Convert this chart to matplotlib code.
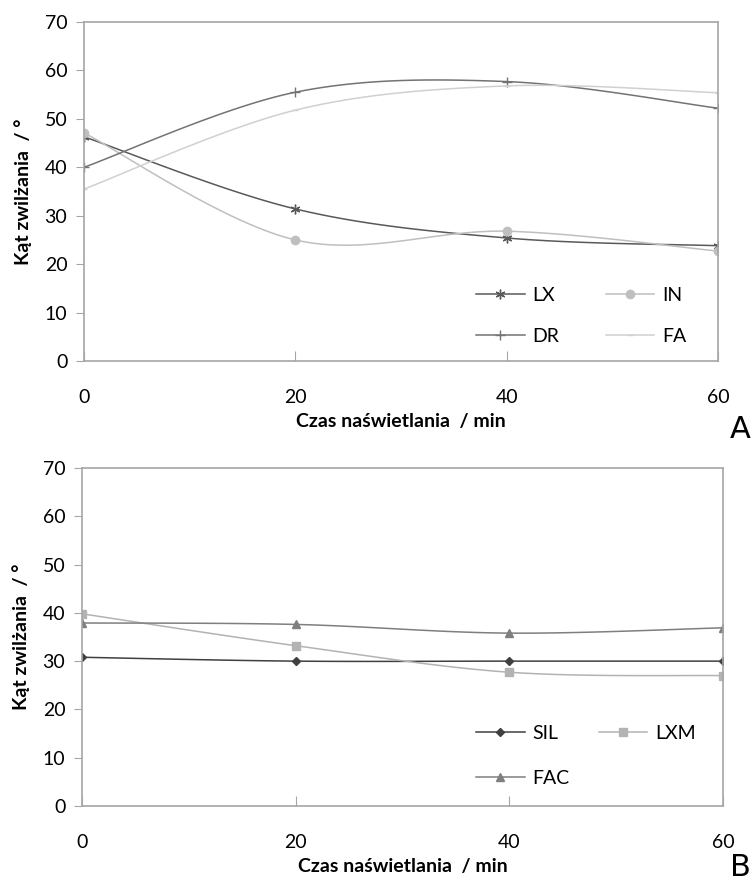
import numpy as np
import matplotlib
matplotlib.use('Agg')
import matplotlib.pyplot as plt

# dane
czas = [0, 20, 40, 60]

lx = [46.3, 31.4, 25.4, 23.8]
in_ = [47.1, 25.0, 26.8, 22.7]
dr = [40.0, 55.5, 57.7, 52.2]
fa = [35.5, 51.8, 56.8, 55.4]

sil = [30.8, 30.0, 30.0, 30.0]
lxm = [39.8, 33.2, 27.7, 27.0]
fac = [37.9, 37.6, 35.8, 36.9]

plt.rcParams['font.family'] = ['Lato', 'DejaVu Sans']


def wygladz(x, y, n=30):
    # krzywa jak w Excelu (Catmull-Rom)
    x = np.asarray(x, float)
    y = np.asarray(y, float)
    px = np.concatenate([[x[0]], x, [x[-1]]])
    py = np.concatenate([[y[0]], y, [y[-1]]])
    xs, ys = [], []
    for i in range(1, len(px) - 2):
        t = np.linspace(0, 1, n)
        for p, out in ((px, xs), (py, ys)):
            p0, p1, p2, p3 = p[i - 1], p[i], p[i + 1], p[i + 2]
            out.extend(0.5 * ((2 * p1) + (-p0 + p2) * t
                              + (2 * p0 - 5 * p1 + 4 * p2 - p3) * t ** 2
                              + (-p0 + 3 * p1 - 3 * p2 + p3) * t ** 3))
    return xs, ys


def seria(ax, y, kolor, marker, ms, label, mew=1.0):
    xs, ys = wygladz(czas, y)
    ax.plot(xs, ys, color=kolor, lw=1.1)
    ax.plot(czas, y, linestyle='none', marker=marker, color=kolor, ms=ms, mew=mew)
    return ax.plot([], [], color=kolor, lw=1.1, marker=marker, ms=ms, mew=mew, label=label)[0]


def osie(ax):
    ax.set_xlim(0, 60)
    ax.set_ylim(0, 70)
    ax.set_xticks([0, 20, 40, 60])
    ax.set_yticks(range(0, 71, 10))
    for s in ax.spines.values():
        s.set_color('#a6a6a6')
        s.set_linewidth(1.2)
    ax.tick_params(axis='y', direction='out', length=6, color='#a6a6a6', labelsize=14, pad=6)
    ax.tick_params(axis='x', direction='in', length=7, color='#a6a6a6', labelsize=14, pad=20)
    ax.set_ylabel('Kąt zwilżania  / °', fontsize=14, fontweight='bold', labelpad=9)
    ax.set_xlabel('Czas naświetlania  / min', fontsize=14, fontweight='bold', labelpad=5)


fig = plt.figure(figsize=(7.52, 8.8), dpi=100)
ax1 = fig.add_axes([0.1117, 0.5898, 0.843, 0.3852])
ax2 = fig.add_axes([0.109, 0.0841, 0.8524, 0.3841])

h_lx = seria(ax1, lx, '#595959', (6, 2, 0), 7, 'LX')
h_in = seria(ax1, in_, '#bfbfbf', 'o', 6, 'IN')
h_dr = seria(ax1, dr, '#737373', '+', 7, 'DR')
h_fa = seria(ax1, fa, '#d0d0d0', '_', 4, 'FA')
osie(ax1)
ax1.legend(handles=[h_lx, h_dr, h_in, h_fa], ncol=2, loc='lower right',
           bbox_to_anchor=(0.978, -0.005), frameon=False,
           fontsize=14, handlelength=2.5, columnspacing=2.4, labelspacing=1.25,
           handletextpad=0.4)

h_sil = seria(ax2, sil, '#404040', 'D', 4, 'SIL')
h_lxm = seria(ax2, lxm, '#b3b3b3', 's', 6, 'LXM')
h_fac = seria(ax2, fac, '#7f7f7f', '^', 6, 'FAC')
osie(ax2)
ax2.legend(handles=[h_sil, h_fac, h_lxm], ncol=2, loc='lower right',
           bbox_to_anchor=(0.985, 0.005), frameon=False,
           fontsize=14, handlelength=2.5, columnspacing=1.5, labelspacing=1.45,
           handletextpad=0.4)

fig.text(0.984, 1 - 429 / 880, 'A', fontsize=22, family='DejaVu Sans', ha='center', va='center')
fig.text(0.984, 1 - 867 / 880, 'B', fontsize=22, family='DejaVu Sans', ha='center', va='center')

plt.savefig('out.png', dpi=100)
